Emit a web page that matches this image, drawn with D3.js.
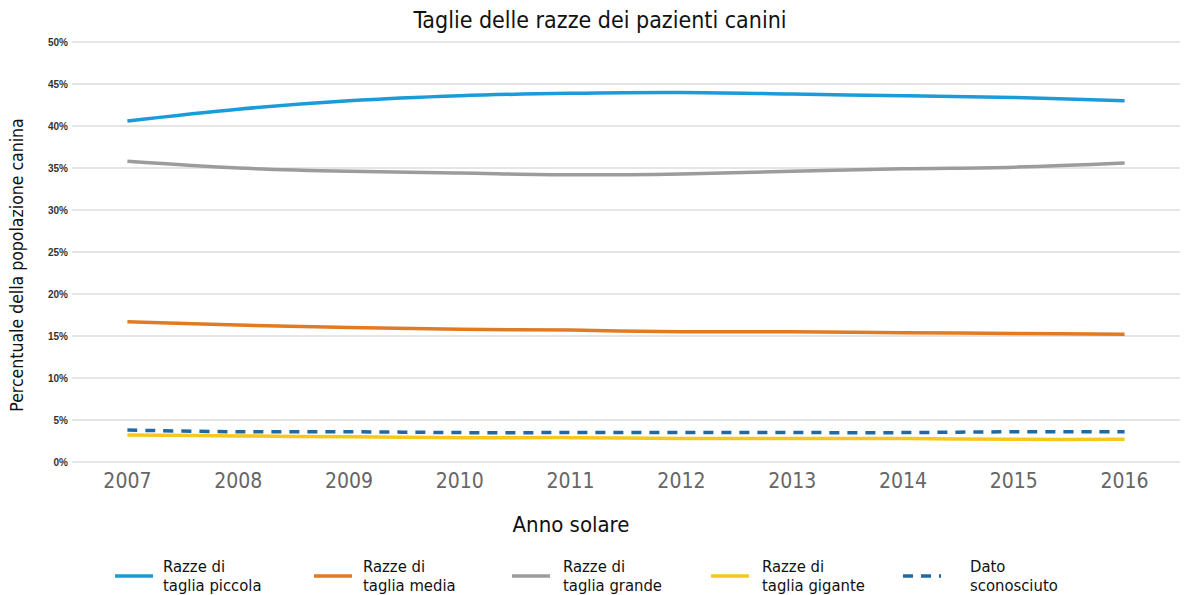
<!DOCTYPE html>
<html>
<head>
<meta charset="utf-8">
<script src="https://cdn.jsdelivr.net/npm/d3@7"></script>
<style>
  body { margin: 0; background: #fff; }
  svg { font-family: "Liberation Sans Narrow", "DejaVu Sans Condensed", sans-serif; }
</style>
</head>
<body>
<div id="chart"></div>
<script>
const years = [2007, 2008, 2009, 2010, 2011, 2012, 2013, 2014, 2015, 2016];
const piccola = [40.6, 42.0, 43.0, 43.6, 43.9, 44.0, 43.8, 43.6, 43.4, 43.0];
const media = [16.7, 16.3, 16.0, 15.8, 15.7, 15.5, 15.5, 15.4, 15.3, 15.2];
const grande = [35.8, 35.0, 34.6, 34.4, 34.2, 34.3, 34.6, 34.9, 35.1, 35.6];
const gigante = [3.2, 3.1, 3.0, 2.9, 2.9, 2.8, 2.8, 2.8, 2.7, 2.7];
const sconosciuto = [3.8, 3.6, 3.6, 3.5, 3.5, 3.5, 3.5, 3.5, 3.6, 3.6];
const yTicks = [0, 5, 10, 15, 20, 25, 30, 35, 40, 45, 50];

const series = [
  { name: ['Razze di', 'taglia piccola'], values: piccola, color: '#1b9cd8', dash: null },
  { name: ['Razze di', 'taglia media'], values: media, color: '#e17b23', dash: null },
  { name: ['Razze di', 'taglia grande'], values: grande, color: '#9c9c9c', dash: null },
  { name: ['Razze di', 'taglia gigante'], values: gigante, color: '#f6c81e', dash: null },
  { name: ['Dato', 'sconosciuto'], values: sconosciuto, color: '#1f6aa6', dash: '10,8' }
];

const width = 1200, height = 595;
const margin = { top: 42, right: 20, bottom: 133, left: 72 };

const svg = d3.select('#chart').append('svg')
    .attr('width', width)
    .attr('height', height);

const x = d3.scalePoint()
    .domain(years)
    .range([margin.left, width - margin.right])
    .padding(0.5);

const y = d3.scaleLinear()
    .domain([0, 50])
    .range([height - margin.bottom, margin.top]);

// gridlines
svg.append('g')
    .selectAll('line')
    .data(yTicks)
    .join('line')
        .attr('x1', margin.left)
        .attr('x2', width - margin.right)
        .attr('y1', d => y(d))
        .attr('y2', d => y(d))
        .attr('stroke', '#dcdcdc')
        .attr('stroke-width', 1.5);

// y tick labels
svg.append('g')
    .selectAll('text')
    .data(yTicks)
    .join('text')
        .attr('x', margin.left - 4)
        .attr('y', d => y(d))
        .attr('dy', '0.35em')
        .attr('text-anchor', 'end')
        .attr('font-family', 'Liberation Sans, Arial, sans-serif')
        .attr('font-weight', 'bold')
        .attr('font-size', 10)
        .attr('fill', '#333')
        .text(d => d + '%');

// x tick labels
svg.append('g')
    .selectAll('text')
    .data(years)
    .join('text')
        .attr('x', d => x(d))
        .attr('y', 488)
        .attr('text-anchor', 'middle')
        .attr('font-size', 21)
        .attr('fill', '#666')
        .text(d => d);

// lines
const line = d3.line()
    .x((d, i) => x(years[i]))
    .y(d => y(d))
    .curve(d3.curveCatmullRom.alpha(0.5));

svg.append('g')
    .selectAll('path')
    .data(series)
    .join('path')
        .attr('d', d => line(d.values))
        .attr('fill', 'none')
        .attr('stroke', d => d.color)
        .attr('stroke-width', 3.5)
        .attr('stroke-dasharray', d => d.dash);

// title
svg.append('text')
    .attr('x', 600)
    .attr('y', 28)
    .attr('text-anchor', 'middle')
    .attr('font-size', 23)
    .attr('fill', '#111')
    .text('Taglie delle razze dei pazienti canini');

// axis titles
svg.append('text')
    .attr('x', 571)
    .attr('y', 532)
    .attr('text-anchor', 'middle')
    .attr('font-size', 22)
    .attr('fill', '#111')
    .text('Anno solare');

svg.append('text')
    .attr('transform', 'translate(23,265) rotate(-90)')
    .attr('text-anchor', 'middle')
    .attr('font-size', 17.5)
    .attr('fill', '#111')
    .text('Percentuale della popolazione canina');

// legend
const legendX = [115, 314, 512, 711, 903];
const textX = [48, 49, 51, 51, 67];
const lg = svg.append('g')
    .selectAll('g')
    .data(series)
    .join('g')
        .attr('transform', (d, i) => `translate(${legendX[i]},576)`);

lg.append('line')
    .attr('x1', 0)
    .attr('x2', 38)
    .attr('stroke', d => d.color)
    .attr('stroke-width', 3.5)
    .attr('stroke-dasharray', d => d.dash);

lg.each(function(d, i) {
  d3.select(this).selectAll('text')
      .data(d.name)
      .join('text')
          .attr('x', textX[i])
          .attr('y', (t, j) => j === 0 ? -4 : 15)
          .attr('font-size', 16.5)
          .attr('fill', '#111')
          .text(t => t);
});
</script>
</body>
</html>
